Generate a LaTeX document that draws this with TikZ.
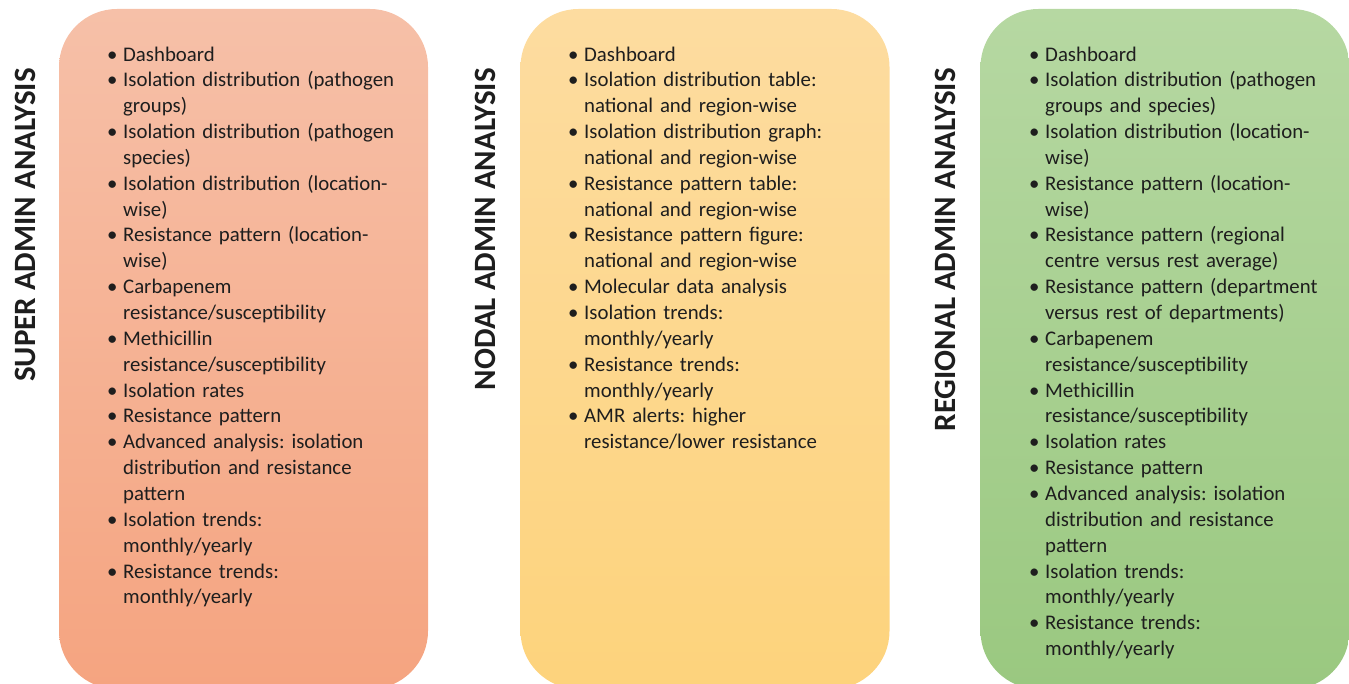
\documentclass[tikz,border=0pt]{standalone}
\usepackage{fontspec}
\setmainfont{Carlito}
\frenchspacing
\definecolor{redtop}{RGB}{246,192,168}
\definecolor{redbot}{RGB}{245,164,128}
\definecolor{yeltop}{RGB}{253,220,160}
\definecolor{yelbot}{RGB}{253,211,124}
\definecolor{grntop}{RGB}{182,216,162}
\definecolor{grnbot}{RGB}{154,200,128}
\definecolor{txt}{RGB}{30,30,30}
\newcommand{\bitem}[1]{\par\noindent\hangindent=16pt\hangafter=1\makebox[16pt][l]{\textbullet}#1}
\begin{document}
\begin{tikzpicture}[x=1pt,y=-1pt,
  panel/.style={rounded corners=58pt, minimum width=369pt, minimum height=680pt, inner sep=0pt, draw=none},
  paneltitle/.style={rotate=90, anchor=east, inner sep=0pt, text=txt, font=\fontsize{31}{37}\selectfont\bfseries},
  bullets/.style={anchor=north west, inner sep=0pt, text width=330pt, text=txt, font=\fontsize{20.8}{25.85}\selectfont\frenchspacing}]
\useasboundingbox (0,0) rectangle (1349,684);
\begin{scope}
\clip (0,0) rectangle (1349,684);
\node[panel, top color=redtop, bottom color=redbot] (p1) at (243.5,349) {};
\node[panel, top color=yeltop, bottom color=yelbot] (p2) at (705,349) {};
\node[panel, top color=grntop, bottom color=grnbot] (p3) at (1165,349) {};
\end{scope}
\node[paneltitle] (t1) at (25,68) {SUPER ADMIN ANALYSIS};
\node[paneltitle] (t2) at (485,68) {NODAL ADMIN ANALYSIS};
\node[paneltitle] (t3) at (945,68) {REGIONAL ADMIN ANALYSIS};
\node[bullets] (l1) at (107,35) {\raggedright
\bitem{Dashboard}
\bitem{Isolation distribution (pathogen\newline groups)}
\bitem{Isolation distribution (pathogen\newline species)}
\bitem{Isolation distribution (location-\newline wise)}
\bitem{Resistance pattern (location-\newline wise)}
\bitem{Carbapenem\newline resistance/susceptibility}
\bitem{Methicillin\newline resistance/susceptibility}
\bitem{Isolation rates}
\bitem{Resistance pattern}
\bitem{Advanced analysis: isolation\newline distribution and resistance\newline pattern}
\bitem{Isolation trends:\newline monthly/yearly}
\bitem{Resistance trends:\newline monthly/yearly}\par};
\node[bullets] (l2) at (568,35) {\raggedright
\bitem{Dashboard}
\bitem{Isolation distribution table:\newline national and region-wise}
\bitem{Isolation distribution graph:\newline national and region-wise}
\bitem{Resistance pattern table:\newline national and region-wise}
\bitem{Resistance pattern figure:\newline national and region-wise}
\bitem{Molecular data analysis}
\bitem{Isolation trends:\newline monthly/yearly}
\bitem{Resistance trends:\newline monthly/yearly}
\bitem{AMR alerts: higher\newline resistance/lower resistance}\par};
\node[bullets] (l3) at (1029,35) {\raggedright
\bitem{Dashboard}
\bitem{Isolation distribution (pathogen\newline groups and species)}
\bitem{Isolation distribution (location-\newline wise)}
\bitem{Resistance pattern (location-\newline wise)}
\bitem{Resistance pattern (regional\newline centre versus rest average)}
\bitem{Resistance pattern (department\newline versus rest of departments)}
\bitem{Carbapenem\newline resistance/susceptibility}
\bitem{Methicillin\newline resistance/susceptibility}
\bitem{Isolation rates}
\bitem{Resistance pattern}
\bitem{Advanced analysis: isolation\newline distribution and resistance\newline pattern}
\bitem{Isolation trends:\newline monthly/yearly}
\bitem{Resistance trends:\newline monthly/yearly}\par};
\end{tikzpicture}
\end{document}
